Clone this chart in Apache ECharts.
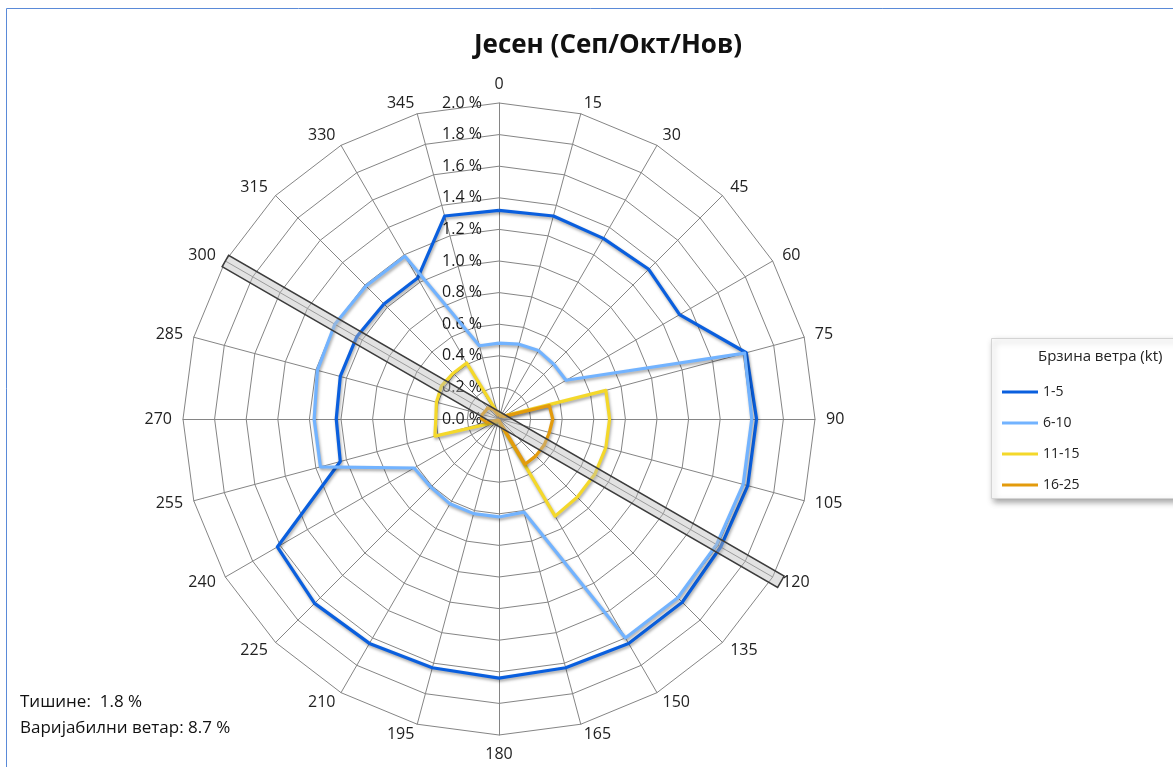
<!DOCTYPE html>
<html><head><meta charset="utf-8">
<script src="https://cdn.jsdelivr.net/npm/echarts@6/dist/echarts.min.js"></script>
<style>html,body{margin:0;padding:0;background:#fff}#c{width:1173px;height:767px}</style>
</head><body><div id="c"></div>
<script>
// ---- data ----
const directions = [0,15,30,45,60,75,90,105,120,135,150,165,180,195,210,225,240,255,270,285,300,315,330,345];
const speed1_5   = [1.32,1.33,1.32,1.34,1.32,1.62,1.63,1.63,1.62,1.64,1.64,1.63,1.64,1.63,1.64,1.65,1.62,1.04,1.03,1.04,1.04,1.03,1.03,1.33];
const speed6_10  = [0.48,0.49,0.50,0.49,0.49,1.61,1.60,1.60,1.59,1.60,1.60,0.61,0.62,0.62,0.62,0.61,0.62,1.17,1.17,1.19,1.20,1.19,1.19,0.48];
const speed11_15 = [0.03,0.03,0.03,0.03,0.04,0.70,0.70,0.70,0.70,0.70,0.71,0.03,0.02,0.02,0.02,0.03,0.05,0.42,0.40,0.41,0.42,0.41,0.41,0.04];
const speed16_25 = [0.02,0.02,0.02,0.03,0.03,0.33,0.34,0.33,0.33,0.33,0.33,0.02,0.01,0.01,0.01,0.01,0.02,0.08,0.11,0.11,0.10,0.10,0.07,0.03];
const seriesNames = ['1-5','6-10','11-15','16-25'];
const seriesColors = ['#0a5fde','#72b3ff','#f4d82a','#e39b0c'];
const radialMax = 2.0;
const radialStep = 0.2;
const runwayHeading = [300, 120];
const calmPct = 1.8;
const variablePct = 8.7;
const titleText = 'Јесен (Сеп/Окт/Нов)';
const legendTitle = 'Брзина ветра (kt)';
const calmLabel = 'Тишине:';
const variableLabel = 'Варијабилни ветар:';

// ---- layout ----
const cx = 499, cy = 419, R = 316;
const FONT = 'Open Sans';

// ECharts radar runs counter-clockwise; reorder to clockwise compass order
const cw = arr => arr.map((_, i) => arr[(arr.length - i) % arr.length]);

const radialLabel = { show: true, margin: 17, color: '#1a1a1a', fontSize: 16, fontFamily: FONT,
  formatter: v => v.toFixed(1) + ' %' };

const indicator = cw(directions).map((d, i) => {
  const o = { name: String(d), min: 0, max: radialMax };
  if (i === 0) o.axisLabel = radialLabel;
  return o;
});

const allSeries = [speed1_5, speed6_10, speed11_15, speed16_25];
const series = allSeries.map((vals, k) => ({
  type: 'radar',
  name: seriesNames[k],
  symbol: 'none',
  z: 2 + k,
  itemStyle: { color: seriesColors[k] },
  lineStyle: { color: seriesColors[k], width: 3.2,
    shadowBlur: 3, shadowColor: 'rgba(0,0,0,0.35)', shadowOffsetX: 1, shadowOffsetY: 2 },
  data: [{ name: seriesNames[k], value: cw(vals) }]
}));

// runway band along heading
function vec(b) { const r = b * Math.PI / 180; return [Math.sin(r), -Math.cos(r)]; }
const d = vec(runwayHeading[1]);
const pp = [-d[1], d[0]];
const hw = 6.5;
const A = [cx - d[0] * R * 1.0, cy - d[1] * R * 1.0];
const B = [cx + d[0] * R * 1.03, cy + d[1] * R * 1.03];
const runwayPts = [
  [A[0] + hw * pp[0], A[1] + hw * pp[1]],
  [B[0] + hw * pp[0], B[1] + hw * pp[1]],
  [B[0] - hw * pp[0], B[1] - hw * pp[1]],
  [A[0] - hw * pp[0], A[1] - hw * pp[1]]
];

const chart = echarts.init(document.getElementById('c'), null, { renderer: 'canvas' });
chart.setOption({
  animation: false,
  backgroundColor: '#fff',
  color: seriesColors,
  title: {
    text: titleText, left: 603, top: 28, textAlign: 'center',
    textStyle: { fontFamily: FONT, fontWeight: 'bold', fontSize: 26, color: '#111' }
  },
  legend: {
    orient: 'vertical', left: 997, top: 380,
    data: seriesNames, icon: 'rect', itemWidth: 36, itemHeight: 3, itemGap: 17,
    textStyle: { fontFamily: FONT, fontSize: 14, color: '#222' }, z: 10
  },
  radar: {
    center: [cx, cy], radius: R, startAngle: 90, shape: 'polygon',
    splitNumber: Math.round(radialMax / radialStep),
    indicator: indicator,
    nameGap: 11,
    axisName: { color: '#222', fontSize: 16, fontFamily: FONT },
    axisLine: { lineStyle: { color: '#858585', width: 1 } },
    splitLine: { lineStyle: { color: '#858585', width: 1 } },
    splitArea: { show: false },
    axisTick: { show: false },
    axisLabel: { show: false }
  },
  series: series,
  graphic: [
    { type: 'rect', z: 0, shape: { x: 6.5, y: 8.5, width: 1200, height: 800 },
      style: { fill: 'none', stroke: '#5a8ad8', lineWidth: 1 } },
    { type: 'polygon', z: 50, shape: { points: runwayPts },
      style: { fill: 'rgba(185,185,185,0.42)', stroke: '#3c3c3c', lineWidth: 1.5 } },
    { type: 'rect', z: 1, shape: { x: 991.5, y: 338.5, width: 200, height: 160 },
      style: { fill: '#fff', stroke: '#d4d4d4', lineWidth: 1,
        shadowBlur: 6, shadowColor: 'rgba(0,0,0,0.35)', shadowOffsetX: 2, shadowOffsetY: 3 } },
    { type: 'text', z: 11, left: 1038, top: 349,
      style: { text: legendTitle, fontFamily: FONT, fontSize: 15, fill: '#222' } },
    { type: 'text', z: 11, left: 20, top: 694,
      style: { text: calmLabel + '  ' + calmPct.toFixed(1) + ' %', fontFamily: FONT, fontSize: 17, fill: '#111' } },
    { type: 'text', z: 11, left: 20, top: 720,
      style: { text: variableLabel + ' ' + variablePct.toFixed(1) + ' %', fontFamily: FONT, fontSize: 17, fill: '#111' } }
  ]
});
</script></body></html>
